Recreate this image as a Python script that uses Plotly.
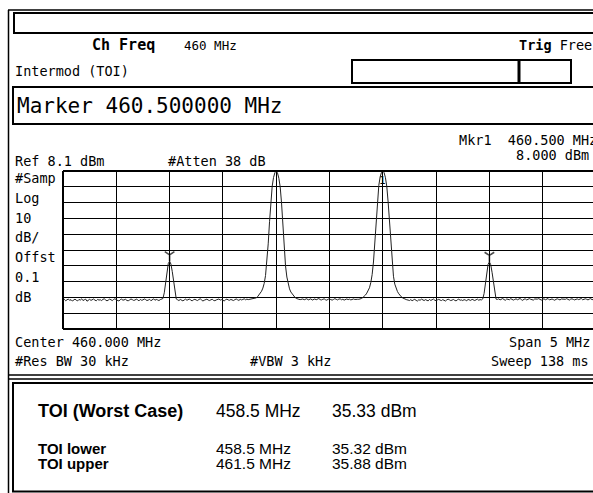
import plotly.graph_objects as go

# ---------------- data ----------------
start_mhz = 457.5
step_mhz = 0.0125          # 401-point sweep over 5 MHz

noise_a = [-73.6, -73.1, -74.0, -73.4, -72.9, -73.8, -73.3, -74.2, -73.5, -73.0, -73.7, -74.1, -73.2, -73.6, -72.8,
           -73.9, -73.4, -73.0, -74.3, -73.5, -73.1, -73.8, -73.3, -72.9, -73.7, -74.0, -73.2, -73.6, -73.4, -73.9,
           -73.1, -72.8, -73.5, -74.1, -73.6, -73.0, -73.4, -73.9, -73.2, -72.7, -73.5, -73.8, -74.2, -73.3, -73.0,
           -73.7, -73.4, -73.1, -73.9, -74.0, -73.5, -72.9, -73.3, -73.8, -73.6, -73.0, -73.4, -74.1, -73.2, -73.7,
           -73.5, -72.9, -73.3, -73.9, -73.6, -73.1, -74.0, -73.4, -72.8, -73.7, -73.2, -73.5, -73.9, -73.3, -73.0]
im_low = [-72.6, -69.0, -62.0, -55.0, -50.5, -49.0, -50.8, -55.5, -62.5, -69.5, -72.9]
noise_b = [-73.4, -73.9, -73.2, -73.6, -74.1, -73.5, -73.0, -73.7, -73.3, -72.9, -73.8, -74.0, -73.4, -73.1,
           -73.6, -73.9, -73.2, -72.8, -73.5, -74.2, -73.7, -73.3, -73.0, -73.6, -73.9, -73.4, -73.1, -73.8,
           -74.0, -73.5, -73.2, -72.9, -73.6, -73.3, -73.8, -74.1, -73.4, -73.0, -73.5, -73.7, -73.2, -73.6,
           -73.9, -73.3, -72.9, -73.4, -73.8, -73.1, -73.5, -73.2, -72.8, -73.4, -73.0, -73.3, -73.1, -73.2]
tone_low = [-73.0, -72.9, -72.8, -72.2, -71.5, -70.5, -69.5, -68.0, -66.0, -63.0, -58.0, -50.0, -38.0, -24.0,
            -11.0, -1.5, 4.0, 7.0, 8.0, 6.8, 3.5, -2.0, -12.0, -26.0, -40.0, -52.0, -59.0, -64.0, -66.5,
            -68.5, -69.8, -71.0, -71.8, -72.5, -73.0, -73.1, -73.3]
noise_c = [-73.2, -72.9, -73.4, -73.0, -72.7, -73.5, -73.1, -72.8, -73.6, -73.2, -72.9, -73.4, -73.0, -72.6, -73.3,
           -73.5, -73.1, -72.8, -73.4, -73.7, -73.0, -72.9, -73.3, -73.6, -73.2, -72.7, -73.1, -73.5, -73.0, -72.8,
           -73.4, -73.1, -73.6, -73.2, -72.9, -73.3, -73.0, -73.5, -73.1, -72.9, -73.2, -73.0, -73.1]
tone_high = [-73.1, -72.9, -72.6, -72.0, -71.3, -70.4, -69.2, -67.8, -65.8, -62.5, -57.5, -49.5, -37.0, -23.0,
             -10.5, -1.0, 4.3, 7.2, 8.0, 7.0, 3.8, -1.8, -11.5, -25.0, -39.0, -51.0, -58.5, -63.5, -66.2,
             -68.2, -69.6, -70.8, -71.6, -72.3, -72.8, -73.2, -73.4]
noise_d = [-73.6, -73.9, -73.3, -74.0, -73.5, -73.1, -73.8, -74.2, -73.4, -73.7, -73.0, -73.5, -73.9, -73.3,
           -73.6, -74.1, -73.2, -73.8, -73.4, -72.9, -73.7, -74.0, -73.5, -73.1, -73.6, -73.9, -73.3, -73.8,
           -74.2, -73.5, -73.0, -73.4, -73.9, -73.6, -73.2, -73.8, -74.1, -73.4, -73.0, -73.7, -73.5, -73.9,
           -73.3, -73.6, -74.0, -73.2, -73.5, -73.8, -73.1, -73.6, -73.9, -73.4, -73.0, -73.7, -73.3, -73.5]
im_high = [-72.9, -69.5, -62.8, -55.8, -51.0, -49.4, -51.2, -56.0, -63.0, -69.8, -73.0]
noise_e = [-73.2, -72.8, -73.5, -73.0, -72.6, -73.3, -73.7, -72.9, -73.1, -73.4, -72.7, -73.0, -73.6, -73.2, -72.8,
           -73.4, -73.1, -72.6, -73.3, -73.8, -73.0, -72.9, -73.5, -73.2, -72.7, -73.1, -73.4, -73.6, -72.9, -73.2,
           -73.0, -72.7, -73.3, -73.6, -73.1, -72.8, -73.4, -73.0, -72.6, -73.5, -73.2, -72.9, -73.3, -73.7, -73.1,
           -72.8, -73.2, -73.5, -72.9, -73.0, -73.4, -73.1, -72.7, -73.3, -73.6, -73.0, -72.8, -73.2, -73.5, -73.1,
           -72.9, -73.3, -73.0, -72.6, -73.4, -73.2, -72.8, -73.1, -73.5, -73.0, -72.7, -73.3, -73.1, -72.9, -73.2]

levels = noise_a + im_low + noise_b + tone_low + noise_c + tone_high + noise_d + im_high + noise_e
freqs = [start_mhz + i * step_mhz for i in range(len(levels))]

ref_level = 8.1
db_per_div = 10

peak_freqs = [458.5, 459.5, 461.5]
peak_levels = [-49.0, 8.0, -49.4]
active_marker_freq = 460.5
active_marker_level = 8.0

top_texts = {"chfreq": "460 MHz", "trig": "Free", "mode": "Intermod (TOI)",
             "marker": "Marker 460.500000 MHz"}
mkr_readout = ["Mkr1  460.500 MHz", "8.000 dBm"]
ref_texts = ["Ref 8.1 dBm", "#Atten 38 dB"]
left_labels = ["#Samp", "Log", "10", "dB/", "Offst", "0.1", "dB"]
bottom_left = ["Center 460.000 MHz", "#Res BW 30 kHz"]
bottom_mid = "#VBW 3 kHz"
bottom_right = ["Span 5 MHz", "Sweep 138 ms"]
toi_labels = ["TOI (Worst Case)", "TOI lower", "TOI upper"]
toi_freqs = ["458.5 MHz", "458.5 MHz", "461.5 MHz"]
toi_values = ["35.33 dBm", "35.32 dBm", "35.88 dBm"]

# ---------------- layout helpers ----------------
W, H = 593, 493
GX0, GY0, GY1 = 63, 171, 329           # graticule edges (px)
PX_PER_MHZ = 106.6
PX_PER_DB = (GY1 - GY0) / (db_per_div * 10)
MONO = "DejaVu Sans Mono"
SANS = "Liberation Sans"


def X(p):
    return p / W


def Y(p):
    return 1 - p / H


shapes = []


def hline(y, x0, x1, w=1.5):
    shapes.append(dict(type="line", xref="paper", yref="paper", x0=X(x0), x1=X(x1),
                       y0=Y(y), y1=Y(y), line=dict(color="black", width=w)))


def vline(x, y0, y1, w=1.5):
    shapes.append(dict(type="line", xref="paper", yref="paper", x0=X(x), x1=X(x),
                       y0=Y(y0), y1=Y(y1), line=dict(color="black", width=w)))


def rect(x0, y0, x1, y1, w=2):
    shapes.append(dict(type="rect", xref="paper", yref="paper", x0=X(x0), x1=X(x1),
                       y0=Y(y0), y1=Y(y1), line=dict(color="black", width=w)))


annotations = []


def txt(x, y, s, size=13.5, anchor="left", family=MONO):
    annotations.append(dict(xref="paper", yref="paper", x=X(x), y=Y(y), text=s,
                            showarrow=False, xanchor=anchor, yanchor="middle",
                            font=dict(family=family, size=size, color="black")))


# frame
hline(10, 8, 610, 1.5)
vline(8.5, 10, 493, 1.5)
rect(14, 13, 620, 33, 2)
rect(352, 60, 571, 83, 2)
vline(519, 60, 83, 3)
rect(13, 87, 620, 124, 2)
hline(375, 8, 610, 1.5)
hline(379, 8, 610, 1.5)
rect(13, 383, 620, 491.5, 2)

# graticule border
hline(GY0, GX0, 610, 2)
hline(GY1, GX0, 610, 2)
vline(GX0, GY0, GY1, 2)

# texts
txt(90, 45, "<b>Ch Freq</b>", 15)
txt(182, 45, top_texts["chfreq"], 12.5)
txt(594, 45, "<b>Trig</b> " + top_texts["trig"], 13.5, "right")
txt(13, 71, top_texts["mode"], 13.5)
txt(15, 106, top_texts["marker"], 21)
txt(599, 140, mkr_readout[0], 13.5, "right")
txt(591, 155, mkr_readout[1], 13.5, "right")
txt(13, 161, ref_texts[0], 13.5)
txt(166, 161, ref_texts[1], 13.5)
for i, s in enumerate(left_labels):
    txt(13, 178 + i * 19.8, s, 13.5)
txt(13, 342, bottom_left[0], 13.5)
txt(13, 361, bottom_left[1], 13.5)
txt(248, 361, bottom_mid, 13.5)
txt(592, 342, bottom_right[0], 13.5, "right")
txt(591, 361, bottom_right[1], 13.5, "right")

txt(36, 411, "<b>" + toi_labels[0] + "</b>", 18, family=SANS)
txt(214, 411, toi_freqs[0], 17.5, family=SANS)
txt(330, 411, toi_values[0], 17.5, family=SANS)
for k, yy in ((1, 448), (2, 463.5)):
    txt(36, yy, "<b>" + toi_labels[k] + "</b>", 15, family=SANS)
    txt(214, yy, toi_freqs[k], 15.5, family=SANS)
    txt(330, yy, toi_values[k], 15.5, family=SANS)

# ---------------- figure ----------------
fig = go.Figure()
fig.add_trace(go.Scatter(x=freqs, y=levels, mode="lines",
                         line=dict(color="#222222", width=1), hoverinfo="skip"))

# peak markers (Y arrows), raised so the stem tip touches the peak
sizes = [8, 9, 8]
fig.add_trace(go.Scatter(
    x=peak_freqs,
    y=[lv + (s / 2 * 1.6) / PX_PER_DB for lv, s in zip(peak_levels, sizes)],
    mode="markers", cliponaxis=False, hoverinfo="skip",
    marker=dict(symbol="y-down", size=sizes, color="black",
                line=dict(color="black", width=1.6))))
# active marker (diamond)
fig.add_trace(go.Scatter(
    x=[active_marker_freq], y=[active_marker_level + 7 / PX_PER_DB],
    mode="markers", cliponaxis=False, hoverinfo="skip",
    marker=dict(symbol="diamond-open", size=10, color="black",
                line=dict(color="black", width=2.2))))
annotations.append(dict(x=active_marker_freq, y=active_marker_level, xref="x", yref="y",
                        text="1", showarrow=False, yshift=-9, yanchor="middle",
                        font=dict(family=MONO, size=11, color="black")))

x_end = start_mhz + (W - GX0) / PX_PER_MHZ
fig.update_layout(
    width=W, height=H, margin=dict(l=0, r=0, t=0, b=0),
    paper_bgcolor="white", plot_bgcolor="white", showlegend=False,
    shapes=shapes, annotations=annotations,
    xaxis=dict(domain=[X(GX0), 1], range=[start_mhz, x_end], tick0=start_mhz, dtick=0.5,
               showgrid=True, gridcolor="black", gridwidth=1, showticklabels=False,
               ticks="", zeroline=False, showline=False, fixedrange=True),
    yaxis=dict(domain=[Y(GY1), Y(GY0)], range=[ref_level - 10 * db_per_div, ref_level],
               tick0=ref_level, dtick=db_per_div, showgrid=True, gridcolor="black",
               gridwidth=1, showticklabels=False, ticks="", zeroline=False,
               showline=False, fixedrange=True),
)
fig.write_html(
    "out.html",
    config={"displayModeBar": False, "staticPlot": True},
    post_script="document.body.style.margin='0px';document.body.style.overflow='hidden';",
)
